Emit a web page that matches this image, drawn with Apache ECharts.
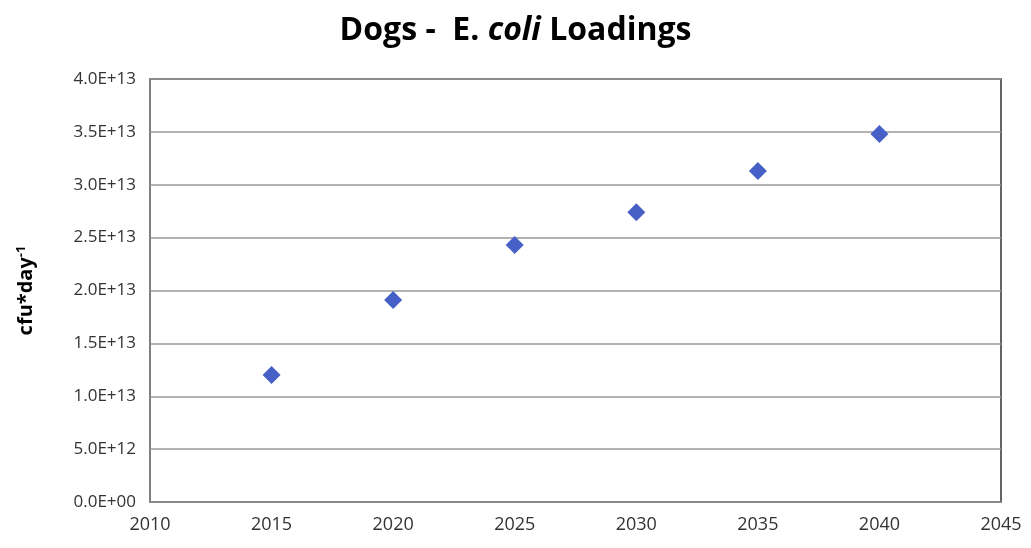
<!DOCTYPE html>
<html><head><meta charset="utf-8">
<script src="https://cdn.jsdelivr.net/npm/echarts@6/dist/echarts.min.js"></script>
<style>html,body{margin:0;padding:0;background:#fff}#c{width:1031px;height:548px}</style>
</head><body><div id="c"></div>
<script>
var years = [2015, 2020, 2025, 2030, 2035, 2040];
var loadings = [1.20e13, 1.91e13, 2.43e13, 2.74e13, 3.13e13, 3.48e13];
var xTicks = [2010, 2015, 2020, 2025, 2030, 2035, 2040, 2045];
var yTickLabels = ['0.0E+00','5.0E+12','1.0E+13','1.5E+13','2.0E+13','2.5E+13','3.0E+13','3.5E+13','4.0E+13'];

var chart = echarts.init(document.getElementById('c'));
var font = '"Open Sans", "Liberation Sans", sans-serif';
chart.setOption({
  animation: false,
  title: {
    text: '{b|Dogs -  E. }{i|coli}{b| Loadings}',
    left: 'center', top: 10,
    textStyle: {
      rich: {
        b: {fontFamily: font, fontWeight: 'bold', fontSize: 32, color: '#000'},
        i: {fontFamily: font, fontWeight: 'bold', fontStyle: 'italic', fontSize: 32, color: '#000'}
      }
    }
  },
  grid: {left: 150, right: 30, top: 79, bottom: 46, show: true, borderColor: '#333', borderWidth: 1.5},
  xAxis: {
    type: 'value', min: 2010, max: 2045, interval: 5,
    axisLine: {show: true, lineStyle: {color: '#888', width: 1.5}},
    axisTick: {show: false},
    splitLine: {show: false},
    axisLabel: {fontFamily: font, fontSize: 18, color: '#333', margin: 14,
      formatter: function (v) { return xTicks[Math.round((v - 2010) / 5)]; }}
  },
  yAxis: {
    type: 'value', min: 0, max: 4e13, interval: 5e12,
    name: '{n|cfu*day}{s|-1}', nameLocation: 'middle', nameGap: 112, nameRotate: 90,
    nameTextStyle: {rich: {
      n: {fontFamily: font, fontWeight: 'bold', fontSize: 20, color: '#000'},
      s: {fontFamily: font, fontWeight: 'bold', fontSize: 13, color: '#000', verticalAlign: 'top', padding: [0,0,10,0]}
    }},
    axisLine: {show: true, lineStyle: {color: '#888', width: 1.5}},
    axisTick: {show: false},
    splitLine: {show: true, lineStyle: {color: '#999', width: 1.5}},
    axisLabel: {fontFamily: font, fontSize: 17, color: '#333', margin: 14,
      formatter: function (v) { return yTickLabels[Math.round(v / 5e12)]; }}
  },
  series: [{
    type: 'scatter',
    data: years.map(function (y, i) { return [y, loadings[i]]; }),
    symbol: 'diamond', symbolSize: 18,
    itemStyle: {color: '#4760c8', opacity: 1}
  }]
});
</script></body></html>
